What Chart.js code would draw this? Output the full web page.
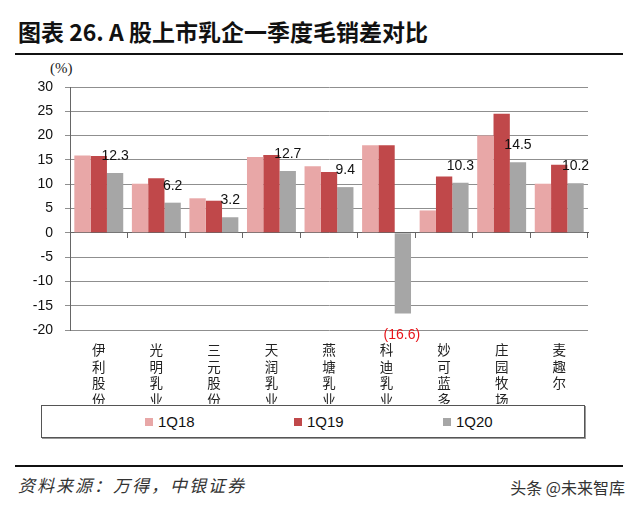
<!DOCTYPE html>
<html>
<head>
<meta charset="utf-8">
<script src="https://cdn.jsdelivr.net/npm/chart.js@4.4.1/dist/chart.umd.min.js"></script>
<style>
  body { margin: 0; background: #fff; width: 640px; height: 507px; position: relative; overflow: hidden; font-family: "Liberation Sans", Arial, sans-serif; }
  #title { position: absolute; left: 18px; top: 14px; font-family: "Noto Sans CJK SC", sans-serif; font-weight: bold; font-size: 23px; color: #111; white-space: nowrap; }
  .rule { position: absolute; left: 15px; width: 608px; height: 2px; background: #111; }
  #unit { position: absolute; left: 50px; top: 60px; font-family: "Liberation Serif", serif; font-size: 15px; color: #222; }
  #chartBox { position: absolute; left: 0; top: 56px; }
  #legend { position: absolute; left: 41px; top: 405px; width: 542px; height: 31px; border: 1px solid #555; box-shadow: 1px 1px 0 #999; }
  .item { position: absolute; top: 7px; font-size: 15px; color: #111; line-height: 17px; }
  .item span { display: inline-block; width: 8px; height: 8px; margin-right: 5px; vertical-align: 1px; }
  #source { position: absolute; left: 18px; top: 472px; font-family: "Noto Sans CJK SC", sans-serif; font-style: italic; font-size: 17px; letter-spacing: 2px; color: #333; }
  #mark { position: absolute; right: 15px; top: 475px; font-family: "Noto Sans CJK SC", sans-serif; font-size: 16px; color: #333; }
</style>
</head>
<body>
<div id="title">图表 26. A 股上市乳企一季度毛销差对比</div>
<div class="rule" style="top:53px"></div>
<div id="unit">(%)</div>
<div id="chartBox"><canvas id="gmChart" width="640" height="348"></canvas></div>
<div id="legend"></div>
<div class="rule" style="top:465px"></div>
<div id="source">资料来源：万得，中银证券</div>
<div id="mark">头条 @未来智库</div>

<script>
const companies = ['伊利股份', '光明乳业', '三元股份', '天润乳业', '燕塘乳业', '科迪乳业', '妙可蓝多', '庄园牧场', '麦趣尔'];
const q18 = [15.9, 10.1, 7.1, 15.6, 13.7, 18.0, 4.6, 20.0, 10.1];
const q19 = [15.8, 11.2, 6.6, 16.0, 12.5, 18.0, 11.6, 24.5, 14.0];
const q20 = [12.3, 6.2, 3.2, 12.7, 9.4, -16.6, 10.3, 14.5, 10.2];
const seriesNames = ['1Q18', '1Q19', '1Q20'];
const seriesColors = ['#E8A7A7', '#C0484A', '#A6A6A6'];
const yTicks = [-20, -15, -10, -5, 0, 5, 10, 15, 20, 25, 30];

// one character per line, so the names stand upright
const stacked = companies.map(n => n.split(''));

const valueLabels = {
    id: 'valueLabels',
    afterDatasetsDraw(chart) {
        const ctx = chart.ctx;
        const meta = chart.getDatasetMeta(2);
        ctx.save();
        ctx.font = '14px "Liberation Sans", Arial, sans-serif';
        ctx.textAlign = 'center';
        meta.data.forEach((bar, i) => {
            const v = q20[i];
            if (v >= 0) {
                ctx.fillStyle = '#111';
                ctx.textBaseline = 'bottom';
                ctx.fillText(v.toFixed(1), bar.x, bar.y - 10);
            } else {
                ctx.fillStyle = '#E8151B';
                ctx.textBaseline = 'top';
                ctx.fillText('(' + Math.abs(v).toFixed(1) + ')', bar.x - 1, bar.y + 15);
            }
        });
        ctx.restore();
    }
};

const chart = new Chart(document.getElementById('gmChart'), {
    type: 'bar',
    data: {
        labels: stacked,
        datasets: [q18, q19, q20].map((d, i) => ({
            label: seriesNames[i],
            data: d,
            backgroundColor: seriesColors[i],
            borderWidth: 0,
            categoryPercentage: 0.85,
            barPercentage: 1.0,
            xAxisID: 'x'
        }))
    },
    options: {
        responsive: false,
        animation: false,
        layout: { padding: { top: 31, left: 15, right: 52, bottom: 0 } },
        plugins: {
            legend: { display: false },
            tooltip: { enabled: false }
        },
        scales: {
            x: {
                position: { y: 0 },
                grid: { offset: true, drawOnChartArea: false, drawTicks: true, tickLength: 5, color: '#666' },
                border: { display: true, color: '#666', width: 1 },
                ticks: { display: false }
            },
            xl: {
                type: 'category',
                position: 'bottom',
                labels: stacked,
                offset: true,
                grid: { display: false },
                border: { display: false },
                ticks: {
                    padding: 4,
                    autoSkip: false,
                    maxRotation: 0,
                    color: '#222',
                    font: { family: '"Noto Sans CJK SC", sans-serif', size: 13.5, lineHeight: 1.22 }
                },
                afterFit: s => { s.height = 74; }
            },
            y: {
                min: -20,
                max: 30,
                afterBuildTicks: s => { s.ticks = yTicks.map(v => ({ value: v })); },
                grid: { color: '#8f8f8f', lineWidth: 1, tickLength: 5 },
                border: { color: '#666', width: 1 },
                ticks: {
                    padding: 12,
                    color: '#111',
                    font: { family: '"Liberation Sans", Arial, sans-serif', size: 14 }
                },
                afterFit: s => { s.width = 55; }
            }
        }
    },
    plugins: [valueLabels]
});

// legend box built from the series arrays
const legend = document.getElementById('legend');
seriesNames.forEach((name, i) => {
    const item = document.createElement('div');
    item.className = 'item';
    item.style.left = (103 + i * 149) + 'px';
    item.innerHTML = '<span style="background:' + seriesColors[i] + '"></span>' + name;
    legend.appendChild(item);
});
</script>
</body>
</html>
